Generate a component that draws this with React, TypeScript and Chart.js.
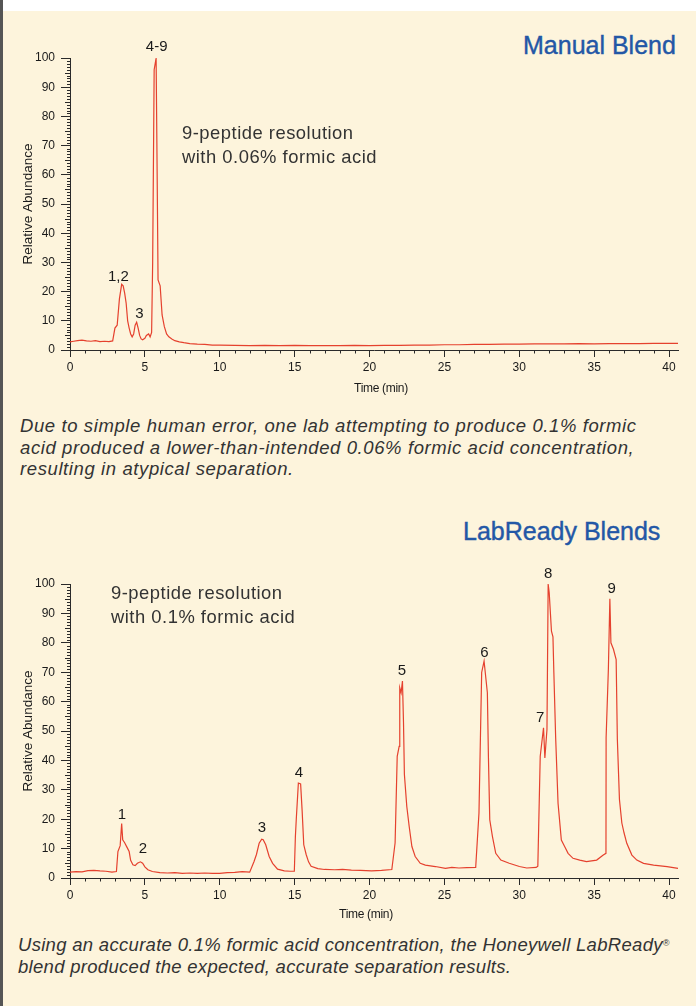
import React, { useEffect, useRef } from 'react';
import { Chart, registerables } from 'chart.js';

Chart.register(...registerables);

// ---------- DATA ----------
const X_TICKS = [0, 5, 10, 15, 20, 25, 30, 35, 40];
const Y_TICKS = [0, 10, 20, 30, 40, 50, 60, 70, 80, 90, 100];

// Manual blend chromatogram (time in min, relative abundance)
const MANUAL_TIME = [
  0.0, 0.25, 0.5, 0.8, 1.1, 1.4, 1.7, 2.0, 2.3, 2.6, 2.85, 3.0, 3.15, 3.3, 3.45, 3.55, 3.65, 3.75, 3.85, 3.95,
  4.05, 4.15, 4.25, 4.35, 4.45, 4.55, 4.65, 4.75, 4.85, 5.0, 5.1, 5.25, 5.35, 5.45, 5.52, 5.62, 5.75, 5.82, 5.88,
  6.02, 6.15, 6.3, 6.45, 6.6, 6.8, 7.0, 7.3, 7.6, 8.0, 8.5, 9.0, 9.5, 10, 11, 12, 13, 14, 15, 16, 17, 18, 19, 20,
  21, 22, 23, 24, 25, 26, 27, 28, 29, 30, 31, 32, 33, 34, 35, 36, 37, 38, 39, 40, 40.6,
];
const MANUAL_ABUND = [
  2.8, 3.0, 3.2, 3.4, 3.1, 3.0, 3.2, 2.9, 3.0, 2.9, 3.1, 7.5, 8.5, 17.5, 22.5, 22.0, 19.5, 16, 10, 7.5,
  5.5, 4.5, 5.5, 8.5, 9.5, 7.5, 5.0, 3.8, 3.5, 4.0, 5.0, 5.5, 4.5, 6, 30, 96, 100, 60, 24,
  22, 12, 8, 5.5, 4.5, 3.8, 3.2, 2.8, 2.5, 2.2, 2.0, 1.9, 1.7, 1.7, 1.6, 1.5, 1.6, 1.5, 1.6, 1.5, 1.5, 1.5, 1.6, 1.5,
  1.6, 1.6, 1.7, 1.7, 1.8, 1.8, 1.9, 1.9, 2.0, 2.0, 2.1, 2.1, 2.1, 2.2, 2.1, 2.2, 2.2, 2.2, 2.3, 2.3, 2.3,
];

// LabReady blend chromatogram
const LR_TIME = [
  0.0, 0.4, 0.8, 1.2, 1.6, 2.0, 2.4, 2.8, 3.1, 3.2, 3.35, 3.45, 3.52, 3.65, 3.8, 3.95, 4.05, 4.2, 4.35, 4.5,
  4.7, 4.85, 5.0, 5.2, 5.5, 6.0, 6.5, 7.0, 7.5, 8.0, 8.5, 9.0, 9.5, 10.0, 10.5, 11.0, 11.5, 12.0, 12.29, 12.45,
  12.63, 12.8, 12.9, 13.07, 13.3, 13.53, 13.86, 14.31, 14.7, 14.98, 15.05, 15.11, 15.25, 15.4, 15.5, 15.61, 15.77,
  15.93, 16.1, 16.55, 17.0, 17.67, 18.2, 18.79, 19.4, 20.14, 20.8, 21.49, 21.71, 21.85, 21.98, 22.02, 22.11, 22.2,
  22.27, 22.33, 22.49, 22.65, 22.83, 23.05, 23.39, 23.73, 24.4, 25.07, 25.5, 25.97, 26.5, 27.09, 27.31, 27.49,
  27.65, 27.87, 27.94, 28.03, 28.21, 28.43, 28.77, 29.33, 30.01, 30.5, 31.13, 31.24, 31.4, 31.62, 31.71, 31.85,
  31.93, 32.0, 32.15, 32.25, 32.31, 32.43, 32.59, 32.81, 33.03, 33.26, 33.59, 34.04, 34.49, 35.17, 35.61, 35.79,
  35.8, 35.95, 36.05, 36.12, 36.29, 36.47, 36.55, 36.69, 36.85, 37.0, 37.18, 37.52, 37.85, 38.3, 38.97, 39.87, 40.6,
];
const LR_ABUND = [
  2.0, 2.2, 2.1, 2.5, 2.6, 2.4, 2.3, 2.0, 2.2, 9, 11, 18.5, 13, 12, 10.5, 9, 6, 4.5, 4.2, 5,
  5.5, 5, 3.8, 2.8, 2.2, 1.8, 1.7, 1.8, 1.6, 1.7, 1.6, 1.7, 1.6, 1.6, 1.8, 1.9, 2.2, 2.0, 5.6, 8,
  11.8, 13.2, 13.0, 11.3, 7.3, 5.0, 3.0, 2.4, 2.3, 2.3, 14, 20, 32.3, 32, 23, 11.3, 8,
  5.5, 4, 3.2, 2.9, 2.8, 2.9, 2.7, 2.6, 2.4, 2.6, 2.9, 12, 41.4, 44.8, 64.7, 63, 67,
  52.8, 35.2, 24.3, 17.5, 10.7, 7.3, 5.0, 4.4, 3.9, 3.3, 3.6, 3.4, 3.5, 3.6, 22.1, 69.9,
  73.8, 63, 41.4, 19.8, 14.1, 8.4, 6.1, 5.0, 3.9, 3.4, 3.6, 4, 41.4, 51.1, 40.8, 50.5,
  100, 97, 84, 82, 69.9, 47.8, 25.4, 12.9, 10.7, 8.4, 6.7, 6.1, 5.6, 6.1, 7.8, 8.4,
  47.8, 70.9, 95, 80, 77.8, 74.3, 47.2, 26.7, 18.7, 15.3, 11.8, 7.8, 6.1, 5.0, 4.4, 3.9, 3.3,
];

const MANUAL_PEAK_LABELS = ['1,2', '3', '4-9'];
const MANUAL_PEAK_TIME = [3.23, 4.63, 5.79];
const MANUAL_PEAK_ABUND = [25.1, 12.3, 103.7];

const LR_PEAK_LABELS = ['1', '2', '3', '4', '5', '6', '7', '8', '9'];
const LR_PEAK_TIME = [3.47, 4.87, 12.82, 15.29, 22.17, 27.67, 31.39, 31.93, 36.17];
const LR_PEAK_ABUND = [21.4, 9.9, 17, 35.7, 70.5, 76.7, 54.3, 103.6, 98.2];

// ---------- STYLE ----------
const RED = '#E5412E';
const AXIS = '#2a2a2a';
const TEXT = '#1a1a1a';
const CREAM = '#FDF4DC';
const BLUE = '#2357A6';
const FONT = '"Liberation Sans", Arial, Helvetica, sans-serif';

type ChromProps = {
  time: number[];
  abund: number[];
  labels: string[];
  labelTime: number[];
  labelAbund: number[];
  top: number;
  height: number;
  padTop: number;
};

function Chromatogram({ time, abund, labels, labelTime, labelAbund, top, height, padTop }: ChromProps) {
  const ref = useRef<HTMLCanvasElement>(null);
  useEffect(() => {
    const canvas = ref.current;
    if (!canvas) return;
    const points = time.map((t, i) => ({ x: t, y: abund[i] }));
    const extras = {
      id: 'extras',
      afterDraw(chart: any) {
        const ctx = chart.ctx;
        const xs = chart.scales.x;
        const ys = chart.scales.y;
        ctx.save();
        ctx.strokeStyle = AXIS;
        ctx.lineWidth = 1;
        ctx.beginPath();
        for (let v = 0; v <= 40; v++) {
          if (v % 5 === 0) continue;
          const px = Math.round(xs.getPixelForValue(v)) + 0.5;
          ctx.moveTo(px, xs.top);
          ctx.lineTo(px, xs.top + 3.5);
        }
        for (let v = 0; v <= 100; v++) {
          if (v % 10 === 0) continue;
          const py = Math.round(ys.getPixelForValue(v)) + 0.5;
          const len = v % 5 === 0 ? 5 : 3;
          ctx.moveTo(ys.right, py);
          ctx.lineTo(ys.right - len, py);
        }
        ctx.stroke();
        ctx.fillStyle = TEXT;
        ctx.font = `15px ${FONT}`;
        ctx.textAlign = 'center';
        ctx.textBaseline = 'middle';
        labels.forEach((lab, i) => {
          ctx.fillText(lab, xs.getPixelForValue(labelTime[i]), ys.getPixelForValue(labelAbund[i]));
        });
        ctx.restore();
      },
    };
    const chart = new Chart(canvas, {
      type: 'line',
      data: {
        datasets: [
          {
            data: points,
            borderColor: RED,
            borderWidth: 1.2,
            pointRadius: 0,
            tension: 0,
            fill: false,
            clip: false as any,
          },
        ],
      },
      options: {
        animation: false,
        responsive: false,
        devicePixelRatio: 1,
        layout: { padding: { top: padTop, right: 18, left: 0, bottom: 0 } },
        plugins: { legend: { display: false }, tooltip: { enabled: false } },
        scales: {
          x: {
            type: 'linear',
            min: 0,
            max: 40.6,
            afterBuildTicks: (s: any) => {
              s.ticks = X_TICKS.map((v) => ({ value: v }));
            },
            afterFit: (s: any) => {
              s.height = 46;
            },
            grid: { drawOnChartArea: false, tickLength: 7, color: AXIS, lineWidth: 1 },
            border: { color: AXIS, width: 1 },
            ticks: { font: { family: FONT, size: 12 }, color: TEXT, padding: 3, maxRotation: 0, autoSkip: false },
            title: { display: false },
          },
          y: {
            type: 'linear',
            min: 0,
            max: 100,
            afterBuildTicks: (s: any) => {
              s.ticks = Y_TICKS.map((v) => ({ value: v }));
            },
            afterFit: (s: any) => {
              s.width = 70;
            },
            grid: { drawOnChartArea: false, tickLength: 9, color: AXIS, lineWidth: 1 },
            border: { color: AXIS, width: 1 },
            ticks: { font: { family: FONT, size: 12 }, color: TEXT, padding: 6, autoSkip: false },
            title: {
              display: true,
              text: 'Relative Abundance',
              font: { family: FONT, size: 13.5 },
              color: TEXT,
              padding: { top: 20, bottom: 0 },
            },
          },
        },
      } as any,
      plugins: [extras],
    });
    return () => chart.destroy();
  }, []);
  return (
    <canvas
      ref={ref}
      width={696}
      height={height}
      style={{ position: 'absolute', left: 0, top, width: 696, height, display: 'block' }}
    />
  );
}

const abs = (left: number, top: number, extra: React.CSSProperties = {}): React.CSSProperties => ({
  position: 'absolute',
  left,
  top,
  whiteSpace: 'nowrap',
  fontFamily: FONT,
  ...extra,
});

export default function App() {
  const titleStyle: React.CSSProperties = {
    fontSize: 25,
    lineHeight: '30px',
    color: BLUE,
    WebkitTextStroke: `0.4px ${BLUE}`,
  };
  const noteStyle: React.CSSProperties = { fontSize: 18.4, lineHeight: '24px', color: '#333', letterSpacing: 0.5 };
  const capStyle: React.CSSProperties = {
    fontSize: 18.5,
    lineHeight: '21.5px',
    color: '#333',
    fontStyle: 'italic',
    letterSpacing: 0.6,
  };
  const capStyle2: React.CSSProperties = { ...capStyle, letterSpacing: 0.3 };
  const axisTitle: React.CSSProperties = {
    fontSize: 12,
    lineHeight: '14px',
    color: TEXT,
    width: 120,
    textAlign: 'center',
    letterSpacing: -0.3,
  };
  return (
    <div style={{ position: 'relative', width: 696, height: 1006, overflow: 'hidden', background: CREAM }}>
      <style>{'body{margin:0}'}</style>
      <div style={{ position: 'absolute', left: 0, top: 0, width: 696, height: 11, background: '#ffffff' }} />
      <div style={{ position: 'absolute', left: 0, top: 0, width: 3, height: 1006, background: '#555555' }} />

      <div style={abs(523, 30, titleStyle)}>Manual Blend</div>
      <div style={abs(463, 516, titleStyle)}>LabReady Blends</div>

      <Chromatogram
        time={MANUAL_TIME}
        abund={MANUAL_ABUND}
        labels={MANUAL_PEAK_LABELS}
        labelTime={MANUAL_PEAK_TIME}
        labelAbund={MANUAL_PEAK_ABUND}
        top={40}
        height={356}
        padTop={18}
      />
      <Chromatogram
        time={LR_TIME}
        abund={LR_ABUND}
        labels={LR_PEAK_LABELS}
        labelTime={LR_PEAK_TIME}
        labelAbund={LR_PEAK_ABUND}
        top={564}
        height={360}
        padTop={20}
      />

      <div style={abs(321, 381, axisTitle)}>Time (min)</div>
      <div style={abs(306, 907, axisTitle)}>Time (min)</div>

      <div style={abs(182, 121, noteStyle)}>
        9-peptide resolution
        <br />
        with 0.06% formic acid
      </div>
      <div style={abs(111, 581, noteStyle)}>
        9-peptide resolution
        <br />
        with 0.1% formic acid
      </div>

      <div style={abs(20, 415, capStyle)}>
        Due to simple human error, one lab attempting to produce 0.1% formic
        <br />
        acid produced a lower-than-intended 0.06% formic acid concentration,
        <br />
        resulting in atypical separation.
      </div>
      <div style={abs(18, 934, capStyle2)}>
        Using an accurate 0.1% formic acid concentration, the Honeywell LabReady
        <sup style={{ fontSize: 9, verticalAlign: 'top', position: 'relative', top: -1 }}>®</sup>
        <br />
        blend produced the expected, accurate separation results.
      </div>
    </div>
  );
}
